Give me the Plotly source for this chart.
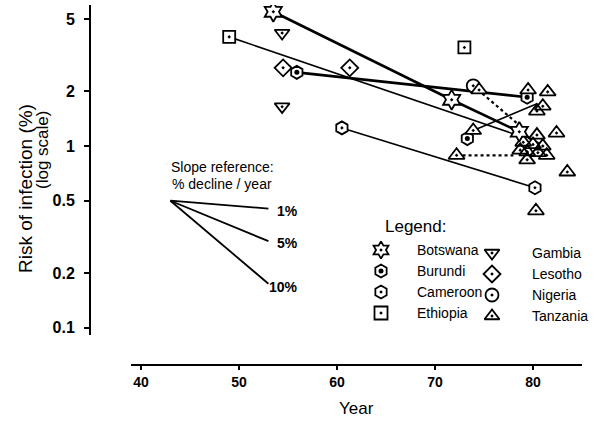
import plotly.graph_objects as go

W, H = 599, 431

# ---------------- data ----------------
bots_year = [53.5, 71.7, 78.6]
bots_val = [5.5, 1.8, 1.2]
bots_line_year = [53.5, 71.7, 78.6, 80.6]
bots_line_val = [5.5, 1.8, 1.2, 1.03]

gamb_year = [54.4, 54.4]
gamb_val = [4.2, 1.65]

buru_year = [55.9, 73.3, 79.4]
buru_val = [2.55, 1.1, 1.86]
buru_line_year = [55.9, 79.4]
buru_line_val = [2.55, 1.86]

leso_year = [54.5, 61.3]
leso_val = [2.7, 2.7]

came_year = [60.5, 80.2]
came_val = [1.26, 0.59]

ethi_year = [49.0, 73.0]
ethi_val = [4.0, 3.5]
ethi_line_year = [49.0, 79.0]
ethi_line_val = [4.0, 1.12]

nige_year = [73.9]
nige_val = [2.15]
nige_line_year = [73.9, 79.0]
nige_line_val = [2.15, 1.25]

tanz_year = [74.5, 73.9, 72.2, 79.5, 81.5, 81.0, 80.4, 80.4, 82.4, 78.7, 79.4,
             80.5, 81.4, 79.4, 83.5, 80.3, 79.0, 80.0, 81.0]
tanz_val = [2.04, 1.22, 0.89, 2.04, 1.99, 1.66, 1.56, 1.15, 1.18, 0.95, 0.93,
            0.92, 0.89, 0.84, 0.72, 0.44, 1.05, 1.02, 1.0]
tanz_dot_year = [72.2, 78.0]
tanz_dot_val = [0.89, 0.89]
tanz_line_year = [73.9, 80.4]
tanz_line_val = [1.22, 1.71]

slope_rates = [1, 5, 10]
slope_start_year = 43
slope_end_year = 53
slope_start_val = 0.5

x_ticks = [40, 50, 60, 70, 80]
y_ticks = [0.1, 0.2, 0.5, 1, 2, 5]
y_ticklabels = ["0.1", "0.2", "0.5", "1", "2", "5"]

legend_names = ["Botswana", "Burundi", "Cameroon", "Ethiopia",
                "Gambia", "Lesotho", "Nigeria", "Tanzania"]

# ---------------- styles ----------------
FONT = "Liberation Sans"
K = "black"
sym = {
    "Botswana": "hexagram-open-dot",
    "Burundi": "hexagon-open-dot",
    "Cameroon": "hexagon-open-dot",
    "Ethiopia": "square-open-dot",
    "Gambia": "triangle-down-open-dot",
    "Lesotho": "diamond-open-dot",
    "Nigeria": "circle-open-dot",
    "Tanzania": "triangle-up-open-dot",
}
msize = {"Botswana": 15, "Burundi": 13, "Cameroon": 13, "Ethiopia": 12,
         "Gambia": 13, "Lesotho": 13, "Nigeria": 13, "Tanzania": 14}

fig = go.Figure()


def line(xs, ys, width=1.6, dash="solid"):
    fig.add_trace(go.Scatter(x=xs, y=ys, mode="lines",
                             line=dict(color=K, width=width, dash=dash),
                             showlegend=False, hoverinfo="skip"))


def marks(name, xs, ys):
    # white filled base so lines/markers beneath are hidden, then open outline
    base = sym[name].replace("-open-dot", "")
    fig.add_trace(go.Scatter(x=xs, y=ys, mode="markers",
                             marker=dict(symbol=base, size=msize[name] - 1,
                                         color="white", line=dict(width=0)),
                             showlegend=False, hoverinfo="skip"))
    fig.add_trace(go.Scatter(x=xs, y=ys, mode="markers", name=name,
                             marker=dict(symbol=sym[name], size=msize[name],
                                         color=K, line=dict(color=K, width=1.8)),
                             showlegend=False))


# lines
line(ethi_line_year, ethi_line_val, 1.6)
line(came_year, came_val, 1.6)
line(bots_line_year, bots_line_val, 2.6)
line(buru_line_year, buru_line_val, 2.6)
line(nige_line_year, nige_line_val, 2.2, "dot")
line(tanz_dot_year, tanz_dot_val, 2.2, "dot")
line(tanz_line_year, tanz_line_val, 1.6)

# slope reference
for r in slope_rates:
    end_val = slope_start_val * (1 - r / 100.0) ** (slope_end_year - slope_start_year)
    line([slope_start_year, slope_end_year], [slope_start_val, end_val], 1.8)

# markers
marks("Ethiopia", ethi_year, ethi_val)
marks("Cameroon", came_year, came_val)
marks("Lesotho", leso_year, leso_val)
marks("Burundi", buru_year, buru_val)
fig.add_trace(go.Scatter(x=buru_year, y=buru_val, mode="markers",
                         marker=dict(symbol="circle", size=5, color=K),
                         showlegend=False, hoverinfo="skip"))
marks("Gambia", gamb_year, gamb_val)
marks("Nigeria", nige_year, nige_val)
marks("Tanzania", tanz_year, tanz_val)
marks("Botswana", bots_year, bots_val)

# ---------------- legend (drawn on pixel overlay axes) ----------------
col_mx = [381, 492]
col_tx = [415, 530]
rows_y = [[250, 271, 292, 313], [253, 274, 295, 316]]
for i, nm in enumerate(legend_names):
    c, r = divmod(i, 4)
    fig.add_trace(go.Scatter(x=[col_mx[c]], y=[rows_y[c][r]], mode="markers",
                             xaxis="x2", yaxis="y2",
                             marker=dict(symbol=sym[nm], size=13, color=K,
                                         line=dict(color=K, width=1.8)),
                             showlegend=False, hoverinfo="skip"))
    if nm == "Burundi":
        fig.add_trace(go.Scatter(x=[col_mx[c]], y=[rows_y[c][r]], mode="markers",
                                 xaxis="x2", yaxis="y2",
                                 marker=dict(symbol="circle", size=5, color=K),
                                 showlegend=False, hoverinfo="skip"))

ann = []


def text(t, px, py, size, xanchor="center", bold=False, angle=0):
    ann.append(dict(text=t, x=px / W, y=1 - py / H, xref="paper", yref="paper",
                    showarrow=False, xanchor=xanchor, yanchor="middle",
                    textangle=angle,
                    font=dict(family=FONT, size=size, color=K,
                              weight="bold" if bold else "normal")))


text("Legend:", 383, 226, 17, "left")
for i, nm in enumerate(legend_names):
    c, r = divmod(i, 4)
    text(nm, col_tx[c], rows_y[c][r], 14, "left")

text("Slope reference:", 222, 167, 14)
text("% decline / year", 222, 184, 14)
for lab, py in zip(["1%", "5%", "10%"], [211, 243, 287]):
    text(lab, 300, py, 14, "right", bold=True)

text("Year", 357, 408, 17)
text("Risk of infection (%)", 25, 189, 19, angle=-90)
text("(log scale)", 43, 150, 17, angle=-90)

# ---------------- axes ----------------
x_lo, x_hi = 131, 582
y_top, y_bot = 5, 335
fig.update_layout(
    width=W, height=H,
    margin=dict(l=0, r=0, t=0, b=0),
    paper_bgcolor="white", plot_bgcolor="rgba(0,0,0,0)",
    showlegend=False,
    annotations=ann,
    xaxis=dict(domain=[x_lo / W, x_hi / W], anchor="free", position=1 - 365 / H,
               range=[38.98, 85.0], showgrid=False, zeroline=False,
               showline=True, linecolor=K, linewidth=1.6,
               ticks="outside", ticklen=4, tickwidth=1.5, tickcolor=K,
               tickvals=x_ticks,
               tickfont=dict(family=FONT, size=14, color=K, weight="bold")),
    yaxis=dict(domain=[1 - y_bot / H, 1 - y_top / H], anchor="free", position=90 / W,
               type="log", range=[-1.0413, 0.7778], showgrid=False, zeroline=False,
               showline=True, linecolor=K, linewidth=2,
               ticks="outside", ticklen=5, tickwidth=1.5, tickcolor=K,
               tickvals=y_ticks, ticktext=y_ticklabels, ticklabelstandoff=6,
               tickfont=dict(family=FONT, size=16, color=K, weight="bold")),
    xaxis2=dict(domain=[0, 1], range=[0, W], visible=False, anchor="y2"),
    yaxis2=dict(domain=[0, 1], range=[H, 0], visible=False, anchor="x2"),
)

fig.write_html("out.html")
